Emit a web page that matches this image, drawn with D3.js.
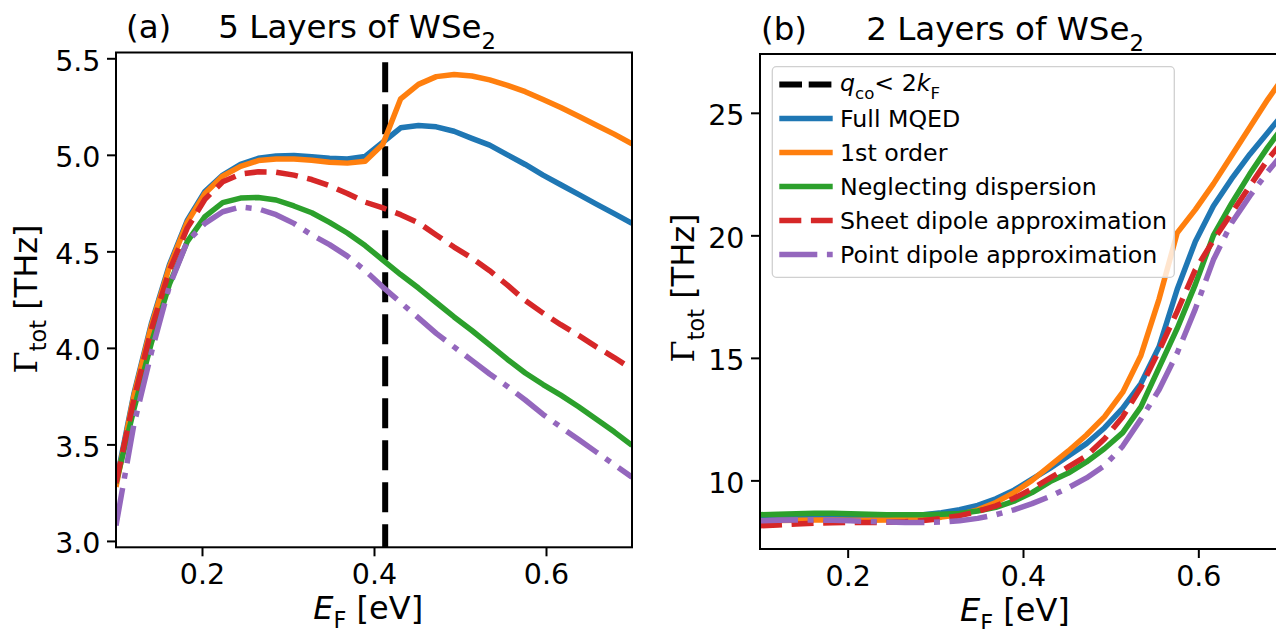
<!DOCTYPE html>
<html>
<head>
<meta charset="utf-8">
<script src="https://cdn.jsdelivr.net/npm/d3@7"></script>
<style>
body { margin: 0; background: #fff; }
svg { font-family: "DejaVu Sans", sans-serif; }
.tick text { font-size: 28.5px; fill: #000; font-family: "DejaVu Sans", sans-serif; }
.tick line { stroke: #000; stroke-width: 2; }
</style>
</head>
<body>
<script>
// Fermi energy grid (eV)
var eF = [0.1, 0.1207, 0.1414, 0.1621, 0.1828, 0.2034, 0.2241, 0.2448, 0.2655, 0.2862,
          0.3069, 0.3276, 0.3483, 0.369, 0.3897, 0.4103, 0.431, 0.4517, 0.4724, 0.4931,
          0.5138, 0.5345, 0.5552, 0.5759, 0.5966, 0.6172, 0.6379, 0.6586, 0.6793, 0.7];

// (a) 5 layers, Gamma_tot [THz]
var a_full   = [3.30, 3.76, 4.13, 4.43, 4.66, 4.81, 4.895, 4.95, 4.982, 4.994, 4.996, 4.99, 4.982, 4.978, 4.992,
                5.065, 5.14, 5.152, 5.145, 5.122, 5.085, 5.05, 5.0, 4.95, 4.895, 4.845, 4.795, 4.745, 4.695, 4.645];
var a_first  = [3.28, 3.75, 4.12, 4.42, 4.65, 4.80, 4.89, 4.94, 4.97, 4.978, 4.978, 4.972, 4.962, 4.957, 4.967,
                5.055, 5.29, 5.365, 5.405, 5.416, 5.408, 5.388, 5.36, 5.327, 5.287, 5.245, 5.2, 5.153, 5.107, 5.057];
var a_nodisp = [3.30, 3.68, 4.03, 4.33, 4.55, 4.68, 4.752, 4.776, 4.779, 4.766, 4.735, 4.70, 4.65, 4.595, 4.53,
                4.455, 4.38, 4.31, 4.235, 4.16, 4.09, 4.015, 3.94, 3.87, 3.81, 3.755, 3.695, 3.63, 3.565, 3.495];
var a_sheet  = [3.30, 3.73, 4.10, 4.40, 4.62, 4.77, 4.86, 4.90, 4.912, 4.91, 4.895, 4.872, 4.84, 4.80, 4.755,
                4.725, 4.69, 4.648, 4.585, 4.522, 4.465, 4.40, 4.325, 4.245, 4.18, 4.12, 4.065, 4.005, 3.95, 3.89];
var a_point  = [3.08, 3.60, 3.98, 4.32, 4.55, 4.645, 4.705, 4.73, 4.72, 4.69, 4.645, 4.585, 4.535, 4.475, 4.40,
                4.315, 4.235, 4.155, 4.075, 4.005, 3.935, 3.865, 3.80, 3.73, 3.655, 3.59, 3.525, 3.46, 3.395, 3.33];
var a_kF = 0.413;

// (b) 2 layers, Gamma_tot [THz]
var b_full   = [8.5, 8.52, 8.54, 8.55, 8.55, 8.54, 8.53, 8.53, 8.55, 8.6, 8.68, 8.8, 8.98, 9.25, 9.6,
                10.05, 10.5, 11.0, 11.5, 12.15, 12.95, 13.95, 15.45, 17.8, 19.75, 21.2, 22.3, 23.3, 24.2, 25.1];
var b_first  = [8.35, 8.36, 8.37, 8.38, 8.38, 8.37, 8.37, 8.38, 8.40, 8.43, 8.5, 8.6, 8.8, 9.1, 9.5,
                10.0, 10.6, 11.2, 11.85, 12.6, 13.6, 15.1, 17.4, 20.1, 21.05, 22.1, 23.25, 24.4, 25.55, 26.6];
var b_nodisp = [8.6, 8.62, 8.64, 8.66, 8.66, 8.64, 8.62, 8.6, 8.6, 8.6, 8.62, 8.65, 8.75, 8.9, 9.15,
                9.5, 9.95, 10.3, 10.75, 11.3, 11.95, 13.0, 14.6, 16.2, 18.0, 20.0, 21.3, 22.5, 23.6, 24.6];
var b_sheet  = [8.15, 8.18, 8.22, 8.25, 8.27, 8.28, 8.28, 8.29, 8.31, 8.36, 8.44, 8.56, 8.73, 8.96, 9.27,
                9.65, 10.1, 10.55, 11.0, 11.7, 12.6, 13.8, 15.3, 16.9, 18.6, 19.8, 20.9, 22.0, 23.1, 24.0];
var b_point  = [8.35, 8.37, 8.38, 8.38, 8.37, 8.35, 8.32, 8.3, 8.28, 8.28, 8.3, 8.35, 8.45, 8.6, 8.8,
                9.05, 9.35, 9.7, 10.1, 10.6, 11.4, 12.5, 13.7, 15.2, 17.0, 19.0, 20.5, 21.6, 22.6, 23.5];

var xTicks = [0.2, 0.4, 0.6];
var aYTicks = [3.0, 3.5, 4.0, 4.5, 5.0, 5.5];
var bYTicks = [10, 15, 20, 25];
var legendLabels = ["Full MQED", "1st order", "Neglecting dispersion",
                    "Sheet dipole approximation", "Point dipole approximation"];

var styles = [
  {color: "#1f77b4", dash: null},
  {color: "#ff7f0e", dash: null},
  {color: "#2ca02c", dash: null},
  {color: "#d62728", dash: "22,9.6"},
  {color: "#9467bd", dash: "38,9.6,6,9.6"}
];
var lw = 5.5;

var svg = d3.select("body").append("svg")
  .attr("width", 1276)
  .attr("height", 629);

function drawPanel(id, box, ydom, series, yfmt) {
  var x = d3.scaleLinear().domain([0.1, 0.7]).range([box.left, box.right]);
  var y = d3.scaleLinear().domain(ydom).range([box.bottom, box.top]);

  svg.append("clipPath").attr("id", "clip-" + id)
    .append("rect")
    .attr("x", box.left).attr("y", box.top)
    .attr("width", box.right - box.left).attr("height", box.bottom - box.top);

  var g = svg.append("g").attr("clip-path", "url(#clip-" + id + ")");

  if (box.kF) {
    // drawn from the top down so the dash pattern starts at the upper end
    g.append("line")
      .attr("x1", x(box.kF)).attr("x2", x(box.kF))
      .attr("y1", y(5.48)).attr("y2", y(ydom[0]))
      .attr("stroke", "#000").attr("stroke-width", 6)
      .attr("stroke-dasharray", "30,12");
  }

  var line = d3.line()
    .x(function(d, i) { return x(eF[i]); })
    .y(function(d) { return y(d); });

  series.forEach(function(s, k) {
    g.append("path")
      .attr("d", line(s))
      .attr("fill", "none")
      .attr("stroke", styles[k].color)
      .attr("stroke-width", lw)
      .attr("stroke-linejoin", "round")
      .attr("stroke-dasharray", styles[k].dash);
  });

  var xAxis = svg.append("g")
    .attr("transform", "translate(0," + box.bottom + ")")
    .call(d3.axisBottom(x).tickValues(xTicks).tickSize(9).tickPadding(7.5).tickFormat(d3.format(".1f")));
  xAxis.select(".domain").remove();
  xAxis.attr("font-family", null).attr("font-size", null);

  var yAxis = svg.append("g")
    .attr("transform", "translate(" + box.left + ",0)")
    .call(d3.axisLeft(y).tickValues(box.yticks).tickSize(9).tickPadding(6.5).tickFormat(d3.format(yfmt)));
  yAxis.select(".domain").remove();
  yAxis.attr("font-family", null).attr("font-size", null);
  yAxis.selectAll("text").attr("dy", "0.42em");

  svg.append("rect")
    .attr("x", box.left).attr("y", box.top)
    .attr("width", box.right - box.left).attr("height", box.bottom - box.top)
    .attr("fill", "none").attr("stroke", "#000").attr("stroke-width", 2);

  return {x: x, y: y};
}

drawPanel("a", {left: 116, right: 632, top: 52.5, bottom: 547.3, kF: a_kF, yticks: aYTicks},
          [2.967, 5.53], [a_full, a_first, a_nodisp, a_sheet, a_point], ".1f");
drawPanel("b", {left: 760, right: 1286, top: 54, bottom: 549, yticks: bYTicks},
          [7.2, 27.4], [b_full, b_first, b_nodisp, b_sheet, b_point], "d");

// titles
function title(xl, xt, yb, tag, name) {
  svg.append("text").attr("x", xl).attr("y", yb).attr("font-size", 32.5).text(tag);
  var t = svg.append("text").attr("x", xt).attr("y", yb).attr("font-size", 32.5);
  t.append("tspan").text(name);
  t.append("tspan").attr("font-size", 22.75).attr("dy", 11.5).text("2");
}
title(126, 218.3, 37.5, "(a)", "5 Layers of WSe");
title(761, 866.2, 39.5, "(b)", "2 Layers of WSe");

// x labels
function xlabel(x0, yb, sub) {
  var t = svg.append("text").attr("x", x0).attr("y", yb).attr("font-size", 32);
  t.append("tspan").attr("font-style", "italic").text("E");
  t.append("tspan").attr("font-size", 22.4).attr("dy", sub).text("F");
  t.append("tspan").attr("dy", -sub).text(" [eV]");
}
xlabel(313.3, 618.5, 9);
xlabel(960, 621, 10);

// y labels
function ylabel(xb, ymid) {
  var t = svg.append("text")
    .attr("transform", "translate(" + xb + "," + ymid + ") rotate(-90)")
    .attr("text-anchor", "middle")
    .attr("font-size", 32);
  t.append("tspan").attr("font-family", "DejaVu Serif").text("Γ");
  t.append("tspan").attr("font-size", 22.4).attr("dy", 9.5).text("tot");
  t.append("tspan").attr("dy", -9.5).text(" [THz]");
}
ylabel(36.5, 299);
ylabel(694, 288);

// legend in panel b
var leg = svg.append("g");
leg.append("rect")
  .attr("x", 772.3).attr("y", 66.7).attr("width", 402).attr("height", 210.6)
  .attr("rx", 4).attr("fill", "#fff").attr("fill-opacity", 0.8)
  .attr("stroke", "#d0d0d0").attr("stroke-width", 1.3);

var rowY = function(i) { return 84.5 + i * 34; };

leg.append("line")
  .attr("x1", 779.3).attr("x2", 832.7).attr("y1", rowY(0)).attr("y2", rowY(0))
  .attr("stroke", "#000").attr("stroke-width", 6).attr("stroke-dasharray", "22.7,6.7");
var q = leg.append("text").attr("x", 840).attr("y", 90.5).attr("font-size", 23.7);
q.append("tspan").attr("font-style", "italic").text("q");
q.append("tspan").attr("font-size", 16.6).attr("dy", 8.5).text("co");
q.append("tspan").attr("dy", -8.5).text("< 2");
q.append("tspan").attr("font-style", "italic").text("k");
q.append("tspan").attr("font-size", 16.6).attr("dy", 8.5).text("F");

legendLabels.forEach(function(lab, k) {
  var i = k + 1;
  leg.append("line")
    .attr("x1", 779.3).attr("x2", 832.7).attr("y1", rowY(i)).attr("y2", rowY(i))
    .attr("stroke", styles[k].color).attr("stroke-width", lw)
    .attr("stroke-dasharray", styles[k].dash);
  leg.append("text")
    .attr("x", 840).attr("y", rowY(i) + 8.5)
    .attr("font-size", 23.7)
    .text(lab);
});
</script>
</body>
</html>
